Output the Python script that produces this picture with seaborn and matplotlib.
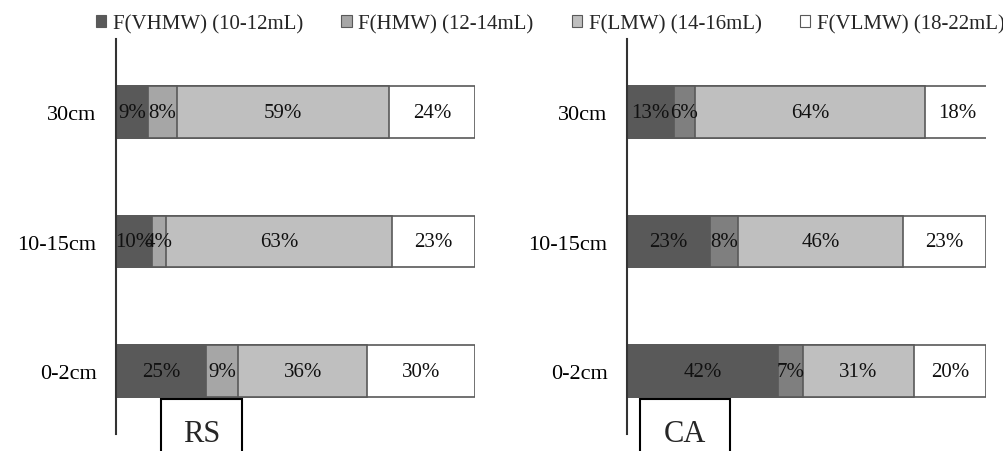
import numpy as np
import pandas as pd
import seaborn as sns
import matplotlib.pyplot as plt
from matplotlib.patches import Rectangle, Patch

sns.set_theme(style="white")
plt.rcParams['font.family'] = ['Liberation Serif', 'DejaVu Serif']

depths = ['30cm', '10-15cm', '0-2cm']
fractions = ['F(VHMW) (10-12mL)', 'F(HMW) (12-14mL)', 'F(LMW) (14-16mL)', 'F(VLMW) (18-22mL)']

# percentages per depth (30cm, 10-15cm, 0-2cm)
rs_vhmw = [9, 10, 25]
rs_hmw = [8, 4, 9]
rs_lmw = [59, 63, 36]
rs_vlmw = [24, 23, 30]

ca_vhmw = [13, 23, 42]
ca_hmw = [6, 8, 7]
ca_lmw = [64, 46, 31]
ca_vlmw = [18, 23, 20]

colors_rs = ['#595959', '#a6a6a6', '#bfbfbf', '#ffffff']
colors_ca = ['#595959', '#7f7f7f', '#bfbfbf', '#ffffff']

fig = plt.figure(figsize=(10.04, 4.52), dpi=100)
W, H = 1004, 452


def panel(left_px, series, colors, name, box_x):
    ax = fig.add_axes([left_px / W, 1 - 435 / H, 359 / W, 395 / H])
    df = pd.DataFrame(dict(zip(fractions, series)), index=depths)
    cum = df.cumsum(axis=1)
    # draw cumulative bars from the widest to the narrowest so they stack
    for i in range(len(fractions) - 1, -1, -1):
        sns.barplot(x=cum[fractions[i]].values, y=depths, orient='h', ax=ax,
                    color=colors[i], edgecolor='#595959', linewidth=1.2,
                    width=0.40, saturation=1)
    for r, d in enumerate(depths):
        start = 0
        for f in fractions:
            v = df.loc[d, f]
            ax.text(start + v / 2, r, f'{v}%', ha='center', va='center',
                    fontsize=15, color='#111111')
            start += v
    ax.set_xlim(0, 100)
    ax.set_ylim(2.486, -0.564)
    ax.set_xlabel('')
    ax.set_ylabel('')
    ax.set_xticks([])
    ax.tick_params(axis='y', length=0, labelsize=16, pad=14)
    for lab in ax.get_yticklabels():
        lab.set_color('black')
    for s in ['top', 'right', 'bottom']:
        ax.spines[s].set_visible(False)
    ax.spines['left'].set_color('#333333')
    ax.spines['left'].set_linewidth(1.5)
    ax.patch.set_alpha(0)

    # sample label box, open at the bottom edge of the figure
    rect = Rectangle((box_x[0] / W, 1 - 470 / H), (box_x[1] - box_x[0]) / W, 70 / H,
                     transform=fig.transFigure, facecolor='white',
                     edgecolor='black', linewidth=1.5, clip_on=False)
    fig.patches.append(rect)
    fig.text((box_x[0] + box_x[1]) / 2 / W, 1 - 442 / H, name, ha='center',
             va='baseline', fontsize=22)
    return ax


panel(116, [rs_vhmw, rs_hmw, rs_lmw, rs_vlmw], colors_rs, 'RS', (161, 242))
panel(627, [ca_vhmw, ca_hmw, ca_lmw, ca_vlmw], colors_ca, 'CA', (640, 730))

handles = [Patch(facecolor=c, edgecolor='#595959', linewidth=0.8) for c in colors_rs]
fig.legend(handles, fractions, loc='center', bbox_to_anchor=(0.548, 1 - 25 / H),
           ncol=4, frameon=False, fontsize=15, handlelength=0.5, handleheight=0.5,
           handletextpad=0.3, columnspacing=1.85, borderaxespad=0, borderpad=0)

plt.savefig('out.png', dpi=100)
